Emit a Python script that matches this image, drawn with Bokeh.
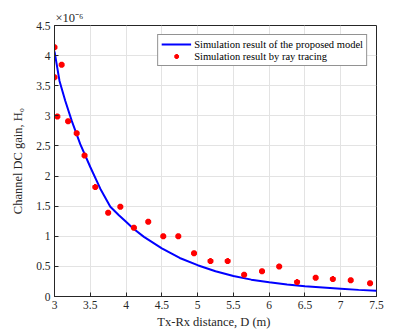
from bokeh.plotting import figure
from bokeh.models import Range1d, Legend, LegendItem, FixedTicker
from bokeh.embed import file_html
from bokeh.resources import INLINE

# Proposed model curve (units of 1e-6)
model_d = [3.0, 3.07, 3.15, 3.24, 3.36, 3.5, 3.64, 3.78, 3.9, 4.0, 4.1, 4.25, 4.5, 4.75,
           5.0, 5.25, 5.5, 5.75, 6.0, 6.25, 6.5, 6.75, 7.0, 7.25, 7.5]
model_h = [4.07, 3.58, 3.25, 2.92, 2.53, 2.15, 1.79, 1.49, 1.35, 1.24, 1.13, 0.99, 0.80, 0.64,
           0.52, 0.42, 0.34, 0.28, 0.235, 0.20, 0.17, 0.15, 0.13, 0.11, 0.095]

# Ray tracing results (units of 1e-6)
ray_d = [3.0, 3.0, 3.04, 3.10, 3.19, 3.31, 3.42, 3.57, 3.75, 3.92, 4.11, 4.31, 4.52,
         4.73, 4.95, 5.18, 5.42, 5.65, 5.90, 6.14, 6.39, 6.65, 6.89, 7.14, 7.41]
ray_h = [4.14, 3.64, 2.99, 3.85, 2.91, 2.71, 2.34, 1.82, 1.39, 1.49, 1.14, 1.24, 1.0,
         1.0, 0.72, 0.59, 0.59, 0.36, 0.42, 0.50, 0.24, 0.31, 0.29, 0.27, 0.22]

x_ticks = [3, 3.5, 4, 4.5, 5, 5.5, 6, 6.5, 7, 7.5]
y_ticks = [0, 0.5, 1, 1.5, 2, 2.5, 3, 3.5, 4, 4.5]

FONT = "Liberation Serif"
AX = "#262626"

p = figure(width=415, height=333, output_backend="svg", toolbar_location=None,
           x_range=Range1d(3, 7.5), y_range=Range1d(0, 4.5),
           min_border_left=54, min_border_right=39, min_border_top=25, min_border_bottom=37)
p.background_fill_color = "white"
p.border_fill_color = "white"
p.outline_line_color = AX
p.outline_line_width = 1

for ax in (p.xaxis[0], p.yaxis[0]):
    ax.axis_line_color = AX
    ax.major_tick_line_color = AX
    ax.major_tick_in = 4
    ax.major_tick_out = 0
    ax.minor_tick_line_color = None
    ax.major_label_text_font = FONT
    ax.major_label_text_font_size = "11.5px"
    ax.major_label_text_color = AX
    ax.axis_label_text_font = FONT
    ax.axis_label_text_font_size = "12.5px"
    ax.axis_label_text_font_style = "normal"
    ax.axis_label_text_color = AX

p.xaxis[0].ticker = FixedTicker(ticks=x_ticks)
p.yaxis[0].ticker = FixedTicker(ticks=y_ticks)
p.xaxis[0].axis_label = "Tx-Rx distance,  D (m)"
p.yaxis[0].axis_label = "Channel DC gain, H\u2080"
p.xaxis[0].major_label_standoff = 4
p.xaxis[0].axis_label_standoff = 3
p.yaxis[0].major_label_standoff = 4
p.yaxis[0].axis_label_standoff = 8

p.xgrid.ticker = FixedTicker(ticks=x_ticks)
p.ygrid.ticker = FixedTicker(ticks=y_ticks)
p.grid.grid_line_color = "#e3e3e3"
p.grid.grid_line_width = 1

r_line = p.line(model_d, model_h, line_color="#0000ff", line_width=2)
r_pts = p.scatter(ray_d, ray_h, marker="asterisk", size=6, line_color="#ff0000",
                  line_width=2.5)

legend = Legend(items=[
    LegendItem(label="Simulation result of the proposed model", renderers=[r_line]),
    LegendItem(label="Simulation result by ray tracing", renderers=[r_pts]),
], location="top_right")
legend.label_text_font = FONT
legend.label_text_font_size = "10.5px"
legend.label_text_color = "#000000"
legend.label_height = 12
legend.glyph_height = 12
legend.glyph_width = 30
legend.spacing = 0
legend.padding = 3
legend.margin = 9
legend.label_standoff = 3
legend.border_line_color = AX
legend.border_line_width = 1
legend.background_fill_alpha = 1
p.add_layout(legend, "center")

p.title.text = "\u00d710\u207b\u2076"
p.title.align = "left"
p.title.text_font = FONT
p.title.text_font_size = "12.5px"
p.title.text_font_style = "normal"
p.title.text_color = AX
p.title.standoff = 1
p.title.offset = 1

open("out.html", "w").write(file_html(p, INLINE))
